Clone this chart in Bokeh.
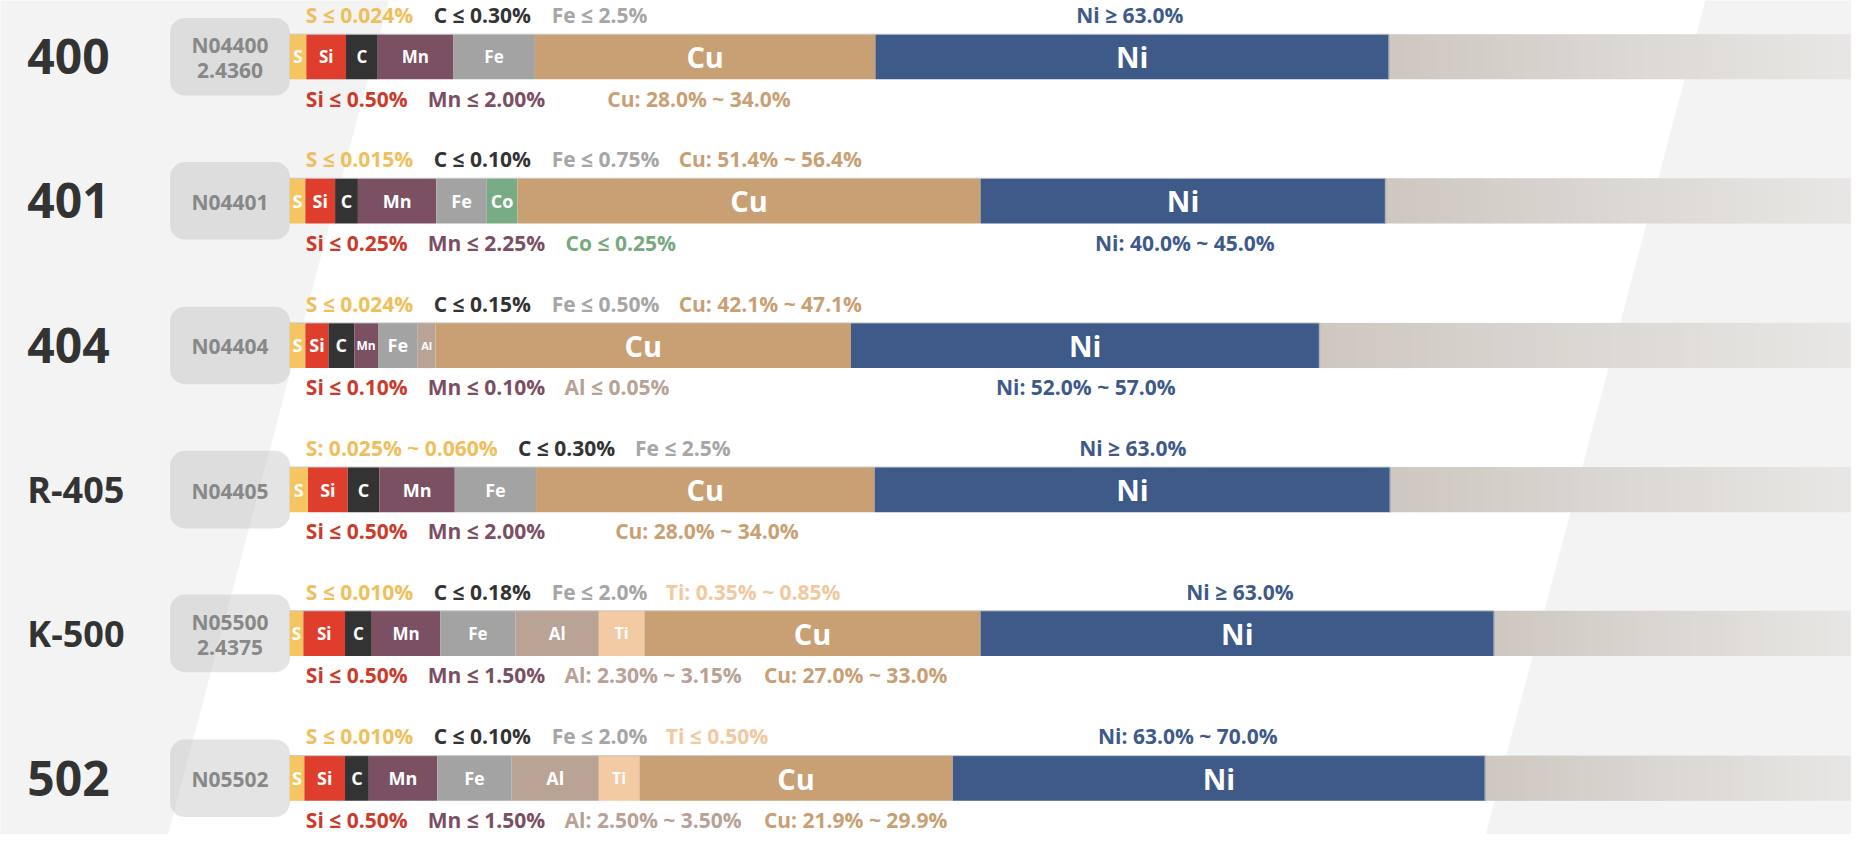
import numpy as np
from bokeh.plotting import figure
from bokeh.models import Range1d, BoxAnnotation, ColumnDataSource
from bokeh.core.properties import value
from bokeh.embed import file_html
from bokeh.resources import INLINE

# ---------------- DATA ----------------
grades = ["400", "401", "404", "R-405", "K-500", "502"]
uns_codes = ["N04400\n2.4360", "N04401", "N04404", "N04405", "N05500\n2.4375", "N05502"]

# bar segments (element, displayed width)
elems_400 = ["S", "Si", "C", "Mn", "Fe", "Cu", "Ni"]
w_400 = [17, 40, 32, 76, 82.5, 343.5, 518]
elems_401 = ["S", "Si", "C", "Mn", "Fe", "Co", "Cu", "Ni"]
w_401 = [16, 30, 23, 79, 51, 31, 467, 408.5]
elems_404 = ["S", "Si", "C", "Mn", "Fe", "Al", "Cu", "Ni"]
w_404 = [16, 23.3, 26, 24, 40, 18, 419, 472.6]
elems_r405 = ["S", "Si", "C", "Mn", "Fe", "Cu", "Ni"]
w_r405 = [18.7, 40, 32, 76, 82, 341.5, 520]
elems_k500 = ["S", "Si", "C", "Mn", "Fe", "Al", "Ti", "Cu", "Ni"]
w_k500 = [14, 42, 27, 69, 76, 84, 46, 339, 518]
elems_502 = ["S", "Si", "C", "Mn", "Fe", "Al", "Ti", "Cu", "Ni"]
w_502 = [15, 41, 24, 69, 75, 88, 41, 316, 537]

# composition limits (text above / below each bar)
top_400 = ["S ≤ 0.024%", "C ≤ 0.30%", "Fe ≤ 2.5%", "Ni ≥ 63.0%"]
top_400_el = ["S", "C", "Fe", "Ni"]
bot_400 = ["Si ≤ 0.50%", "Mn ≤ 2.00%", "Cu: 28.0% ~ 34.0%"]
bot_400_el = ["Si", "Mn", "Cu"]

top_401 = ["S ≤ 0.015%", "C ≤ 0.10%", "Fe ≤ 0.75%", "Cu: 51.4% ~ 56.4%"]
top_401_el = ["S", "C", "Fe", "Cu"]
bot_401 = ["Si ≤ 0.25%", "Mn ≤ 2.25%", "Co ≤ 0.25%", "Ni: 40.0% ~ 45.0%"]
bot_401_el = ["Si", "Mn", "Co", "Ni"]

top_404 = ["S ≤ 0.024%", "C ≤ 0.15%", "Fe ≤ 0.50%", "Cu: 42.1% ~ 47.1%"]
top_404_el = ["S", "C", "Fe", "Cu"]
bot_404 = ["Si ≤ 0.10%", "Mn ≤ 0.10%", "Al ≤ 0.05%", "Ni: 52.0% ~ 57.0%"]
bot_404_el = ["Si", "Mn", "Al", "Ni"]

top_r405 = ["S: 0.025% ~ 0.060%", "C ≤ 0.30%", "Fe ≤ 2.5%", "Ni ≥ 63.0%"]
top_r405_el = ["S", "C", "Fe", "Ni"]
bot_r405 = ["Si ≤ 0.50%", "Mn ≤ 2.00%", "Cu: 28.0% ~ 34.0%"]
bot_r405_el = ["Si", "Mn", "Cu"]

top_k500 = ["S ≤ 0.010%", "C ≤ 0.18%", "Fe ≤ 2.0%", "Ti: 0.35% ~ 0.85%", "Ni ≥ 63.0%"]
top_k500_el = ["S", "C", "Fe", "Ti", "Ni"]
bot_k500 = ["Si ≤ 0.50%", "Mn ≤ 1.50%", "Al: 2.30% ~ 3.15%", "Cu: 27.0% ~ 33.0%"]
bot_k500_el = ["Si", "Mn", "Al", "Cu"]

top_502 = ["S ≤ 0.010%", "C ≤ 0.10%", "Fe ≤ 2.0%", "Ti ≤ 0.50%", "Ni: 63.0% ~ 70.0%"]
top_502_el = ["S", "C", "Fe", "Ti", "Ni"]
bot_502 = ["Si ≤ 0.50%", "Mn ≤ 1.50%", "Al: 2.50% ~ 3.50%", "Cu: 21.9% ~ 29.9%"]
bot_502_el = ["Si", "Mn", "Al", "Cu"]

# ---------------- STYLE / LAYOUT ----------------
seg_color = {"S": "#f4c560", "Si": "#df3e2c", "C": "#333333", "Mn": "#7b5063",
             "Fe": "#a3a3a4", "Co": "#79ab85", "Al": "#b9a395", "Ti": "#f2caa3",
             "Cu": "#c9a074", "Ni": "#3d5a89"}
txt_color = {"S": "#f0be5a", "Si": "#cc3a2b", "C": "#333333", "Mn": "#7a4f63",
             "Fe": "#a6a6a6", "Co": "#77a980", "Al": "#b9a195", "Ti": "#f2c8a0",
             "Cu": "#c8a073", "Ni": "#3e5a8a"}

rows = [
    (elems_400, w_400, top_400, top_400_el, bot_400, bot_400_el),
    (elems_401, w_401, top_401, top_401_el, bot_401, bot_401_el),
    (elems_404, w_404, top_404, top_404_el, bot_404, bot_404_el),
    (elems_r405, w_r405, top_r405, top_r405_el, bot_r405, bot_r405_el),
    (elems_k500, w_k500, top_k500, top_k500_el, bot_k500, bot_k500_el),
    (elems_502, w_502, top_502, top_502_el, bot_502, bot_502_el),
]
# label left positions (layout)
top_x = [[308, 437, 556, 1085], [308, 437, 556, 684], [308, 437, 556, 684],
         [308, 522, 640, 1088], [308, 437, 556, 671, 1196], [308, 437, 556, 671, 1107]]
bot_x = [[308, 431, 612], [308, 431, 570, 1104], [308, 431, 569, 1004],
         [308, 431, 620], [308, 431, 569, 770], [308, 431, 569, 770]]

row_y = [60.7, 207.4, 354.7, 501.5, 647.9, 795.4]
grade_fs = ["48px", "48px", "48px", "36px", "36px", "48px"]
small_fs = [17, 18, 18, 18, 17, 18]
bar_x0 = 291.5
bar_h = 46
lab_dy = 42.5
uns_line_gap = 26
FONT = value("Open Sans")

W, H = 1851, 834
p = figure(width=W, height=H, x_range=Range1d(0, 1867), y_range=Range1d(852.7, 3.4),
           output_backend="svg", toolbar_location=None, x_axis_type=None, y_axis_type=None,
           min_border=0, background_fill_color="white", border_fill_color="white")
p.grid.visible = False
p.outline_line_color = None

# background diagonal panels
p.patches(xs=[[-10, 395, 167, -10], [1723, 1900, 1900, 1496]],
          ys=[[-10, -10, 860, 860], [-10, -10, 860, 860]],
          fill_color="#f3f3f3", line_color=None)

# segments
seg = dict(left=[], right=[], top=[], bottom=[], color=[], label=[], cx=[], cy=[], fs=[])
tail = dict(left=[], right=[], top=[], bottom=[], color=[])
edges = dict(x=[], y0=[], y1=[])
tline = dict(x0=[], x1=[], y=[])
lab = dict(x=[], y=[], text=[], color=[])

c0 = np.array([207, 200, 193])
c1 = np.array([233, 232, 230])
for i, (els, ws, tt, tel, bt, bel) in enumerate(rows):
    yc = row_y[i]
    rights = bar_x0 + np.cumsum(ws)
    lefts = rights - np.array(ws)
    for e, l, r in zip(els, lefts, rights):
        seg["left"].append(l); seg["right"].append(r)
        seg["top"].append(yc - bar_h / 2); seg["bottom"].append(yc + bar_h / 2)
        seg["color"].append(seg_color[e]); seg["label"].append(e)
        seg["cx"].append((l + r) / 2); seg["cy"].append(yc)
        if e in ("Cu", "Ni"):
            fs = 29
        elif i == 2 and e in ("Mn", "Al"):
            fs = 12 if e == "Mn" else 11
        elif e == "Ti":
            fs = 16
        else:
            fs = small_fs[i]
        seg["fs"].append(f"{fs}px")
    end = rights[-1]
    n = 60
    xs = np.linspace(end, 1880, n + 1)
    for k in range(n):
        t = k / (n - 1)
        c = (c0 + (c1 - c0) * t).astype(int)
        tail["left"].append(xs[k]); tail["right"].append(xs[k + 1] + 1.5)
        tail["top"].append(yc - bar_h / 2); tail["bottom"].append(yc + bar_h / 2)
        tail["color"].append("#%02x%02x%02x" % tuple(c))
    edges["x"].append(end); edges["y0"].append(yc - bar_h / 2); edges["y1"].append(yc + bar_h / 2)
    tline["x0"].append(bar_x0); tline["x1"].append(end); tline["y"].append(yc - bar_h / 2)
    for txt, e, x in zip(tt, tel, top_x[i]):
        lab["x"].append(x); lab["y"].append(yc - lab_dy); lab["text"].append(txt)
        lab["color"].append(txt_color[e])
    for txt, e, x in zip(bt, bel, bot_x[i]):
        lab["x"].append(x); lab["y"].append(yc + lab_dy); lab["text"].append(txt)
        lab["color"].append(txt_color[e])

p.quad(left="left", right="right", top="top", bottom="bottom", source=ColumnDataSource(tail),
       fill_color="color", line_color=None)
p.quad(left="left", right="right", top="top", bottom="bottom", source=ColumnDataSource(seg),
       fill_color="color", line_color=None)
p.segment(x0="x", x1="x", y0="y0", y1="y1", source=ColumnDataSource(edges),
          line_color="#aab0bc", line_width=1.5)
p.segment(x0="x0", x1="x1", y0="y", y1="y", source=ColumnDataSource(tline),
          line_color="#c8c8c8", line_width=1)
p.text(x="cx", y="cy", text="label", source=ColumnDataSource(seg), text_color="white",
       text_font=FONT, text_font_style="bold", text_font_size="fs",
       text_align="center", text_baseline="middle")
p.text(x="x", y="y", text="text", source=ColumnDataSource(lab), text_color="color",
       text_font=FONT, text_font_style="bold", text_font_size="21px",
       text_align="left", text_baseline="middle")

# grade names
p.text(x=[27] * len(grades), y=row_y, text=grades, text_color="#333333",
       text_font=FONT, text_font_style="bold", text_font_size=grade_fs,
       text_align="left", text_baseline="middle")

# UNS / W.Nr boxes
for yc in row_y:
    p.add_layout(BoxAnnotation(left=171, right=292, top=yc - 39.5, bottom=yc + 39.5,
                               fill_color="#c4c4c4", fill_alpha=0.45, line_color=None,
                               border_radius=15))
ux, uy, ut = [], [], []
for yc, code in zip(row_y, uns_codes):
    lines = code.split("\n")
    nl = len(lines)
    for j, ln in enumerate(lines):
        ux.append(231.5)
        uy.append(yc + 1 + (j - (nl - 1) / 2) * uns_line_gap)
        ut.append(ln)
r = p.text(x=ux, y=uy, text=ut, text_color="#888888", text_font=FONT,
           text_font_style="bold", text_font_size="21px", text_align="center",
           text_baseline="middle")
r.level = "overlay"

open("out.html", "w").write(file_html(p, INLINE))
